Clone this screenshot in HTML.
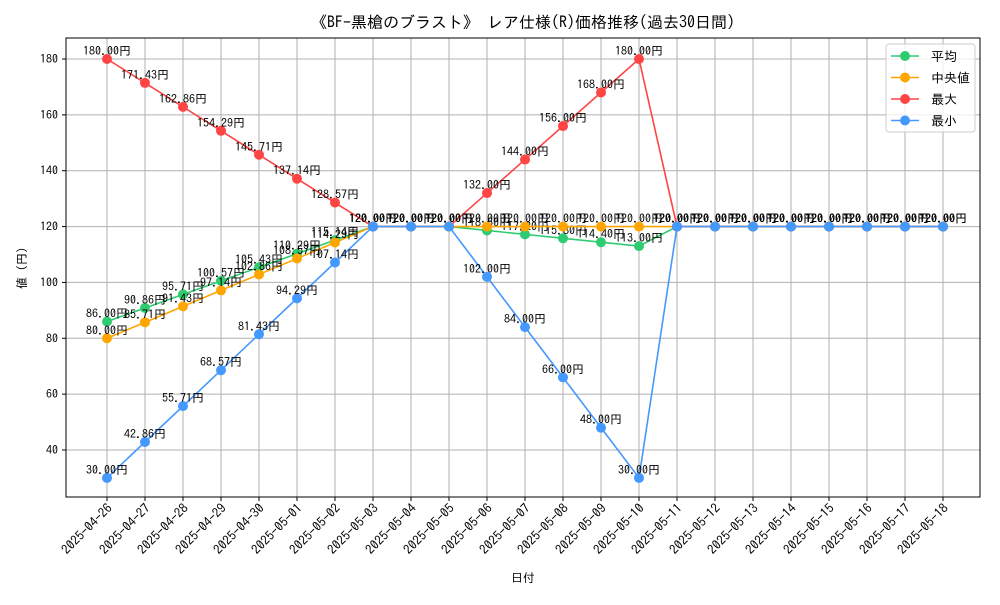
<!DOCTYPE html>
<html><head><meta charset="utf-8"><style>
body{margin:0;background:#fff;}
svg text{font-family:"IPAGothic","Liberation Sans","Noto Sans CJK JP",sans-serif;}
</style></head><body>
<svg id="chart" width="1000" height="600">
<rect width="1000" height="600" fill="#fff"/>
<text x="523" y="28" font-size="16" text-anchor="middle">《BF-黒槍のブラスト》 レア仕様(R)価格推移(過去30日間)</text>
<g id="grid"></g>
<rect x="66" y="38" width="914" height="459" fill="none" stroke="#000" stroke-width="1"/>
<g id="axes"></g>
<g id="series"></g>
<text x="523" y="582" font-size="12" text-anchor="middle">日付</text>
<text x="0" y="0" font-size="12" text-anchor="middle" transform="translate(26,268) rotate(-90)">値 (円)</text>
<g id="legend"></g>
</svg>
<script>
const dates=["2025-04-26","2025-04-27","2025-04-28","2025-04-29","2025-04-30","2025-05-01","2025-05-02","2025-05-03","2025-05-04","2025-05-05","2025-05-06","2025-05-07","2025-05-08","2025-05-09","2025-05-10","2025-05-11","2025-05-12","2025-05-13","2025-05-14","2025-05-15","2025-05-16","2025-05-17","2025-05-18"];
const avgValues=[86,90.86,95.71,100.57,105.43,110.29,115.14,120,120,120,118.6,117.2,115.8,114.4,113,120,120,120,120,120,120,120,120];
const medianValues=[80,85.71,91.43,97.14,102.86,108.57,114.29,120,120,120,120,120,120,120,120,120,120,120,120,120,120,120,120];
const maxValues=[180,171.43,162.86,154.29,145.71,137.14,128.57,120,120,120,132,144,156,168,180,120,120,120,120,120,120,120,120];
const minValues=[30,42.86,55.71,68.57,81.43,94.29,107.14,120,120,120,102,84,66,48,30,120,120,120,120,120,120,120,120];
const yTicks=[40,60,80,100,120,140,160,180];
const NS="http://www.w3.org/2000/svg";
const xs=i=>107+i*38;
const ys=v=>450-(v-40)*(391/140);
function mk(t,a,p){const e=document.createElementNS(NS,t);for(const k in a)e.setAttribute(k,a[k]);p.appendChild(e);return e;}
const grid=document.getElementById('grid'),axes=document.getElementById('axes');
dates.forEach((d,i)=>{
  const l=mk('line',{x1:xs(i),x2:xs(i),y1:38,y2:497,stroke:'#b0b0b0','stroke-width':1},grid);
  
  
  mk('line',{x1:xs(i),x2:xs(i),y1:497,y2:501,stroke:'#000'},axes);
  const t=mk('text',{'font-size':13,'text-anchor':'end',transform:`translate(${xs(i)+6},${509}) rotate(-45)`},axes);
  t.textContent=d;
  
  
});
yTicks.forEach(v=>{
  const l=mk('line',{x1:66,x2:980,y1:ys(v),y2:ys(v),stroke:'#b0b0b0','stroke-width':1},grid);
  
  
  mk('line',{x1:62,x2:66,y1:ys(v),y2:ys(v),stroke:'#000'},axes);
  const t=mk('text',{x:58,y:ys(v)+4,'font-size':12,'text-anchor':'end'},axes);
  t.textContent=v;
  
  
});
const series=[["avg",avgValues,"#2ecc71","平均"],["median",medianValues,"#ffa500","中央値"],["max",maxValues,"#ff4444","最大"],["min",minValues,"#4499ff","最小"]];
const sg=document.getElementById('series');
series.forEach(([n,vals,c])=>{
  const g=mk('g',{},sg);
  
  
  const pl=mk('polyline',{points:vals.map((v,i)=>xs(i)+','+ys(v)).join(' '),fill:'none',stroke:c,'stroke-width':1.6},g);
  
  
  vals.forEach((v,i)=>{
    const p=mk('circle',{cx:xs(i),cy:ys(v),r:5,fill:c},g);
    
    
  });
  vals.forEach((v,i)=>{
    const t=mk('text',{x:xs(i),y:ys(v)-4,'font-size':12,'text-anchor':'middle'},g);
    t.textContent=v.toFixed(2)+'円';
    
    
  });
});
const lg=document.getElementById('legend');
mk('rect',{x:886,y:44,width:89,height:88,rx:3,fill:'#fff','fill-opacity':0.8,stroke:'#ccc'},lg);
series.forEach(([n,vals,c,lab],k)=>{
  const y=56+k*21.5;
  const e=mk('g',{},lg);
  
  
  mk('line',{x1:891,x2:919,y1:y,y2:y,stroke:c,'stroke-width':1.6},e);
  mk('circle',{cx:905,cy:y,r:5,fill:c},e);
  const t=mk('text',{x:931,y:y+5,'font-size':13},e);
  t.textContent=lab;
});
</script>
</body></html>
